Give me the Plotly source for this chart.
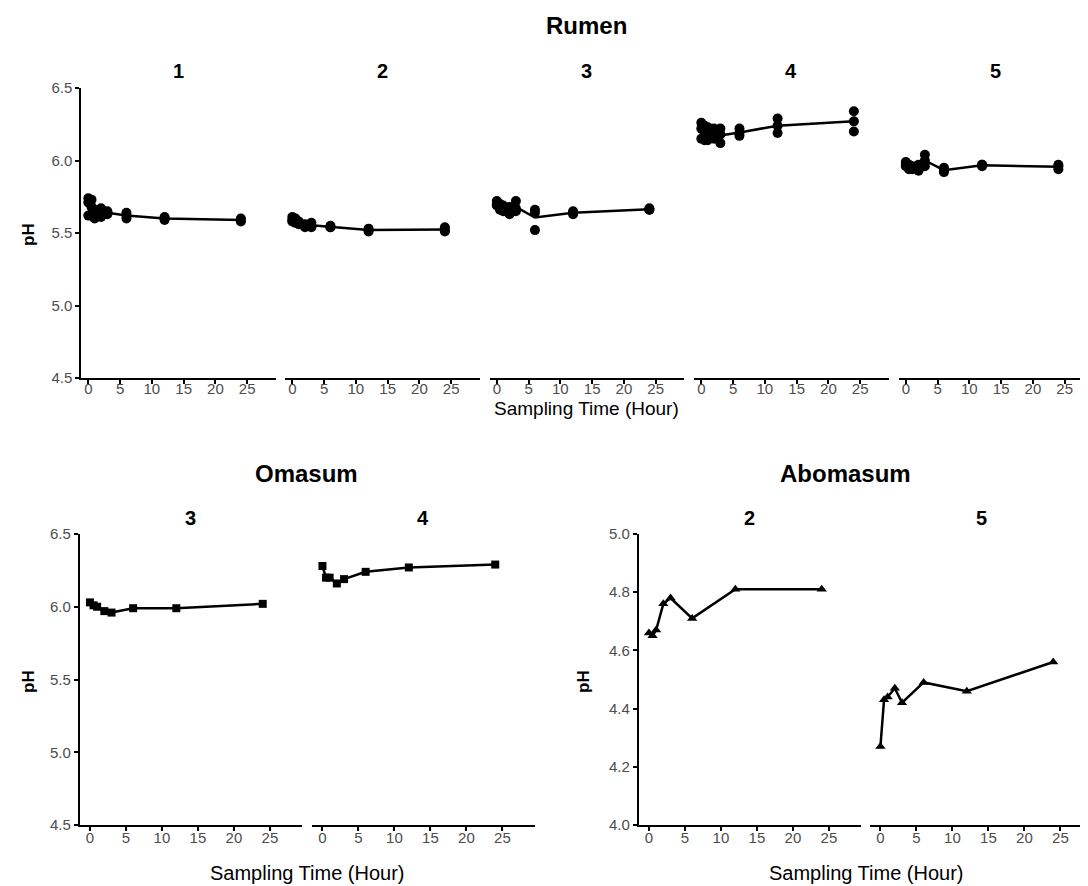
import plotly.graph_objects as go
import numpy as np

# page has an 8px body margin, so the figure is drawn 8px in from the corner
OFF = 8
W, H = 1088 - OFF, 886 - OFF

# ---------------- data ----------------
times = [0, 0.5, 1, 2, 3, 6, 12, 24]

# Rumen: three replicate readings per time point (rows = replicate)
rumen_1 = [[5.74, 5.73, 5.66, 5.67, 5.65, 5.64, 5.61, 5.60],
           [5.71, 5.68, 5.63, 5.64, 5.64, 5.62, 5.60, 5.59],
           [5.62, 5.62, 5.60, 5.61, 5.63, 5.60, 5.59, 5.58]]
rumen_2 = [[5.61, 5.60, 5.58, 5.56, 5.57, 5.55, 5.53, 5.54],
           [5.59, 5.58, 5.57, 5.55, 5.55, 5.54, 5.52, 5.52],
           [5.58, 5.57, 5.56, 5.54, 5.54, 5.54, 5.51, 5.51]]
rumen_3 = [[5.72, 5.70, 5.69, 5.68, 5.72, 5.66, 5.65, 5.67],
           [5.70, 5.68, 5.67, 5.65, 5.67, 5.64, 5.64, 5.66],
           [5.69, 5.66, 5.65, 5.63, 5.65, 5.52, 5.63, 5.66]]
rumen_4 = [[6.26, 6.24, 6.23, 6.22, 6.22, 6.22, 6.29, 6.34],
           [6.22, 6.19, 6.18, 6.17, 6.18, 6.19, 6.24, 6.27],
           [6.15, 6.14, 6.14, 6.15, 6.12, 6.17, 6.19, 6.20]]
rumen_5 = [[5.99, 5.97, 5.96, 5.97, 6.04, 5.95, 5.97, 5.97],
           [5.97, 5.95, 5.95, 5.94, 6.00, 5.93, 5.97, 5.96],
           [5.96, 5.94, 5.94, 5.93, 5.96, 5.92, 5.96, 5.94]]
rumen_ids = ["1", "2", "3", "4", "5"]
rumen_data = [rumen_1, rumen_2, rumen_3, rumen_4, rumen_5]

omasum_ids = ["3", "4"]
omasum_3 = [6.03, 6.01, 6.00, 5.97, 5.96, 5.99, 5.99, 6.02]
omasum_4 = [6.28, 6.20, 6.20, 6.16, 6.19, 6.24, 6.27, 6.29]

abomasum_ids = ["2", "5"]
abomasum_2 = [4.66, 4.65, 4.67, 4.76, 4.78, 4.71, 4.81, 4.81]
abomasum_5 = [4.27, 4.43, 4.44, 4.47, 4.42, 4.49, 4.46, 4.56]

x_ticks = [0, 5, 10, 15, 20, 25]
ph_ticks_rumen = [4.5, 5.0, 5.5, 6.0, 6.5]
ph_ticks_abomasum = [4.0, 4.2, 4.4, 4.6, 4.8, 5.0]

# ---------------- layout helpers ----------------
FONT = "Liberation Sans, Arial, sans-serif"
TICKCOL = "#4d4d4d"


def px_x(p):
    return (p - OFF) / W


def px_y(p):
    return 1 - (p - OFF) / H


fig = go.Figure()
layout = {}


def add_axes(idx, xdom, ydom, xrange, yrange, show_y, yticks=None, standoff=-6):
    xa = "xaxis" if idx == 1 else f"xaxis{idx}"
    ya = "yaxis" if idx == 1 else f"yaxis{idx}"
    layout[xa] = dict(
        domain=[px_x(xdom[0]), min(1.0, px_x(xdom[1]))], range=xrange,
        anchor="y" if idx == 1 else f"y{idx}", automargin=False,
        tickvals=x_ticks, ticks="outside", ticklen=4, tickwidth=1.5,
        tickcolor="black", showline=True, linecolor="black", linewidth=1.5,
        showgrid=False, zeroline=False, ticklabelstandoff=standoff,
        tickfont=dict(family=FONT, size=15, color=TICKCOL),
    )
    if show_y:
        layout[ya] = dict(
            domain=[px_y(ydom[1]), px_y(ydom[0])], range=yrange,
            anchor="x" if idx == 1 else f"x{idx}", automargin=False,
            tickvals=yticks, tickformat=".1f", ticks="outside", ticklen=4,
            tickwidth=1.5, tickcolor="black", showline=True, linecolor="black",
            linewidth=1.5, showgrid=False, zeroline=False,
            tickfont=dict(family=FONT, size=15, color=TICKCOL),
        )
    else:
        layout[ya] = dict(
            domain=[px_y(ydom[1]), px_y(ydom[0])], range=yrange,
            anchor="x" if idx == 1 else f"x{idx}", visible=False,
            automargin=False, showgrid=False, zeroline=False,
        )


def axref(idx):
    return ("x", "y") if idx == 1 else (f"x{idx}", f"y{idx}")


annotations = []


def text(s, x, y, size, bold=False, angle=0, color="black"):
    annotations.append(dict(
        text=f"<b>{s}</b>" if bold else s, x=px_x(x), y=px_y(y),
        xref="paper", yref="paper", showarrow=False, textangle=angle,
        xanchor="center", yanchor="middle",
        font=dict(family=FONT, size=size, color=color),
    ))


# ---------------- Rumen row ----------------
rumen_xdoms = [(81, 275.5), (285, 479.5), (489.5, 684), (694, 888.5), (898.5, 1088)]
rumen_ydom = (88, 378)
scale_r = 194.5 / 30.6
idx = 0
for k, (rid, reps) in enumerate(zip(rumen_ids, rumen_data)):
    idx += 1
    xd = rumen_xdoms[k]
    xr = [-1.15, -1.15 + (xd[1] - xd[0]) / scale_r]
    add_axes(idx, xd, rumen_ydom, xr, [4.5, 6.5], k == 0, ph_ticks_rumen, standoff=-8)
    xa, ya = axref(idx)
    reps_arr = np.array(reps)
    for rep in reps:
        fig.add_trace(go.Scatter(x=times, y=rep, mode="markers", xaxis=xa, yaxis=ya,
                                 marker=dict(symbol="circle", size=10, color="black"),
                                 showlegend=False, cliponaxis=False))
    fig.add_trace(go.Scatter(x=times, y=reps_arr.mean(axis=0), mode="lines", xaxis=xa, yaxis=ya,
                             line=dict(color="black", width=2.5), showlegend=False))
    text(rid, xd[0] + 194.5 / 2, 70.5, 20, bold=True)

text("Rumen", 586, 26, 24, bold=True)
text("pH", 28, 235, 17, bold=True, angle=-90)
text("Sampling Time (Hour)", 586, 409, 19)

# ---------------- Omasum ----------------
bottom_ydom = (534, 825)
scale_b = 7.2
om_xdoms = [(79.5, 302), (312, 534.5)]
for k, (oid, vals) in enumerate(zip(omasum_ids, [omasum_3, omasum_4])):
    idx += 1
    xd = om_xdoms[k]
    xr = [-1.45, -1.45 + (xd[1] - xd[0]) / scale_b]
    add_axes(idx, xd, bottom_ydom, xr, [4.5, 6.5], k == 0, ph_ticks_rumen)
    xa, ya = axref(idx)
    fig.add_trace(go.Scatter(x=times, y=vals, mode="lines+markers", xaxis=xa, yaxis=ya,
                             marker=dict(symbol="square", size=8, color="black"),
                             line=dict(color="black", width=2.5), showlegend=False,
                             cliponaxis=False))
    text(oid, (xd[0] + xd[1]) / 2, 518, 20, bold=True)

text("Omasum", 306, 473, 24, bold=True)
text("pH", 28, 682, 17, bold=True, angle=-90)
text("Sampling Time (Hour)", 307, 873, 20)

# ---------------- Abomasum ----------------
ab_xdoms = [(638.5, 861), (870, 1088)]
for k, (aid, vals) in enumerate(zip(abomasum_ids, [abomasum_2, abomasum_5])):
    idx += 1
    xd = ab_xdoms[k]
    xr = [-1.45, -1.45 + (xd[1] - xd[0]) / scale_b]
    add_axes(idx, xd, bottom_ydom, xr, [4.0, 5.0], k == 0, ph_ticks_abomasum)
    xa, ya = axref(idx)
    fig.add_trace(go.Scatter(x=times, y=vals, mode="lines+markers", xaxis=xa, yaxis=ya,
                             marker=dict(symbol="triangle-up", size=9, color="black"),
                             line=dict(color="black", width=2.5), showlegend=False,
                             cliponaxis=False))
    text(aid, xd[0] + 222.5 / 2, 518, 20, bold=True)

text("Abomasum", 845, 473, 24, bold=True)
text("pH", 583, 682, 17, bold=True, angle=-90)
text("Sampling Time (Hour)", 866, 873, 20)

fig.update_layout(
    template="none",
    width=W, height=H,
    margin=dict(l=0, r=0, t=0, b=0, pad=0, autoexpand=False),
    paper_bgcolor="white", plot_bgcolor="white",
    annotations=annotations,
    showlegend=False,
    **layout,
)

fig.write_html("out.html")
